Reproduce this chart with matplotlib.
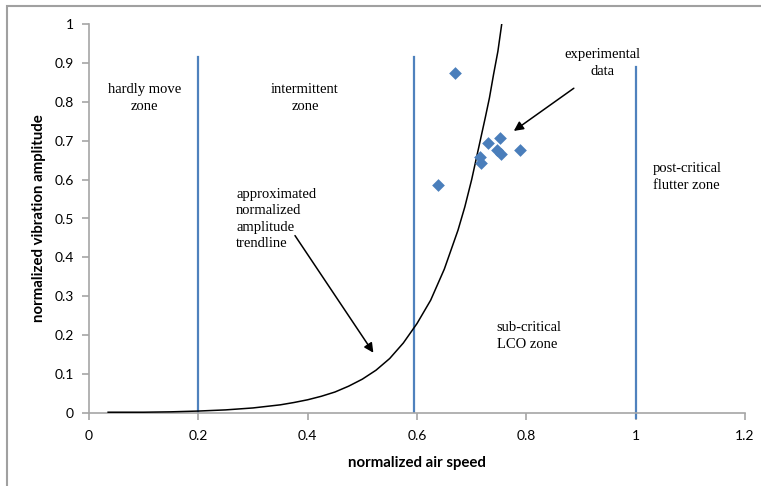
import matplotlib.pyplot as plt
from matplotlib.patches import Rectangle

# experimental points (normalized air speed, normalized amplitude)
exp_speed = [0.670, 0.638, 0.752, 0.730, 0.746, 0.754, 0.789, 0.715, 0.717]
exp_amp = [0.874, 0.586, 0.706, 0.693, 0.676, 0.665, 0.676, 0.659, 0.642]

# trendline
trend_speed = [0.035, 0.10, 0.15, 0.20, 0.25, 0.30, 0.35, 0.375, 0.40, 0.425, 0.45,
               0.475, 0.50, 0.525, 0.55, 0.575, 0.60, 0.6125, 0.625, 0.6375, 0.65,
               0.6625, 0.675, 0.6875, 0.70, 0.7125, 0.725, 0.7325, 0.74, 0.748, 0.755]
trend_amp = [0.002, 0.002, 0.003, 0.005, 0.008, 0.013, 0.021, 0.027, 0.034, 0.043, 0.054,
             0.069, 0.087, 0.11, 0.14, 0.18, 0.23, 0.26, 0.29, 0.33, 0.37,
             0.42, 0.47, 0.53, 0.60, 0.68, 0.76, 0.81, 0.87, 0.93, 1.0]

# zone boundaries
zone_x = [0.2, 0.595, 1.0]
xticks = [0, 0.2, 0.4, 0.6, 0.8, 1, 1.2]
yticks = [0, 0.1, 0.2, 0.3, 0.4, 0.5, 0.6, 0.7, 0.8, 0.9, 1]

fig = plt.figure(figsize=(7.61, 4.86), dpi=100)
ax = fig.add_axes([89 / 761, 73 / 486, 656 / 761, 389 / 486])

ax.plot(trend_speed, trend_amp, color='black', lw=1.1, zorder=3)
ax.scatter(exp_speed, exp_amp, marker='D', s=42, color='#4a7ebb', zorder=4, linewidths=0)

blue = '#4f81bd'
ax.plot([zone_x[0], zone_x[0]], [0, 0.915], color=blue, lw=1.6)
ax.plot([zone_x[1], zone_x[1]], [0, 0.915], color=blue, lw=1.6)
ax.plot([zone_x[2], zone_x[2]], [-0.013, 0.89], color=blue, lw=1.6, clip_on=False)

ax.set_xlim(0, 1.2)
ax.set_ylim(0, 1)
ax.set_xticks(xticks)
ax.set_xticklabels(['0', '0.2', '0.4', '0.6', '0.8', '1', '1.2'])
ax.set_yticks(yticks)
ax.set_yticklabels(['0', '0.1', '0.2', '0.3', '0.4', '0.5', '0.6', '0.7', '0.8', '0.9', '1'])

for s in ['top', 'right']:
    ax.spines[s].set_visible(False)
for s in ['left', 'bottom']:
    ax.spines[s].set_color('#a6a6a6')
    ax.spines[s].set_linewidth(1.2)
ax.tick_params(colors='#a6a6a6', length=5, width=1.2, labelcolor='black', labelsize=10)
for lab in ax.get_xticklabels() + ax.get_yticklabels():
    lab.set_family('Lato')
ax.tick_params(axis='x', pad=7)
ax.tick_params(axis='y', pad=6)

ax.set_xlabel('normalized air speed', fontsize=10.8, fontweight='bold', family='Lato', labelpad=10)
ax.set_ylabel('normalized vibration amplitude', fontsize=10.8, fontweight='bold', family='Lato', labelpad=6)

serif = dict(family='Liberation Serif', fontsize=10.5, linespacing=1.35)
ax.text(0.102, 0.81, 'hardly move\nzone', ha='center', va='center', **serif)
ax.text(0.395, 0.81, 'intermittent\nzone', ha='center', va='center', **serif)
ax.text(1.032, 0.607, 'post-critical\nflutter zone', ha='left', va='center', **serif)
ax.text(0.746, 0.198, 'sub-critical\nLCO zone', ha='left', va='center', **serif)
ax.text(0.269, 0.499, 'approximated\nnormalized\namplitude\ntrendline', ha='left', va='center', **serif)
ax.text(0.94, 0.90, 'experimental\ndata', ha='center', va='center', **serif)

arrow = dict(arrowstyle='-|>', color='black', lw=1.1, mutation_scale=14)
ax.annotate('', xy=(0.523, 0.149), xytext=(0.374, 0.462), arrowprops=arrow)
ax.annotate('', xy=(0.773, 0.721), xytext=(0.891, 0.839), arrowprops=arrow)

# chart area frame (left and top edges visible)
fig.patches.append(Rectangle((7 / 761, -0.05), 1.2, (486 - 6) / 486 + 0.05,
                             transform=fig.transFigure, fill=False,
                             edgecolor='#a0a0a0', lw=1.5))

fig.savefig('out.png', dpi=100)
